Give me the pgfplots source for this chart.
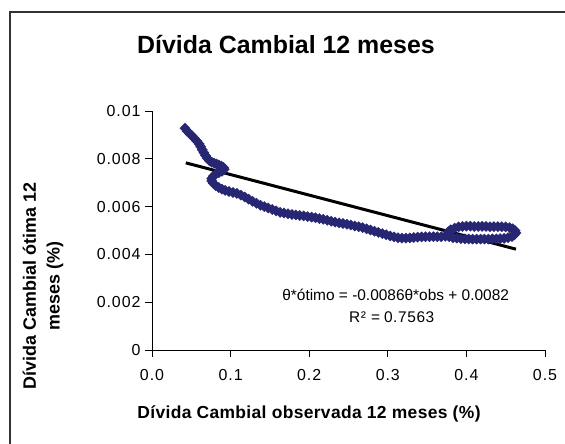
\documentclass[border=0pt]{standalone}
\usepackage{fontspec}
\setmainfont{Liberation Sans}
\usepackage{pgfplots}
\pgfplotsset{compat=1.18}
\definecolor{navy}{RGB}{38,38,115}
\newcommand{\tickfont}{\fontsize{16}{18}\selectfont\addfontfeature{LetterSpace=6}}
\begin{document}
\begin{tikzpicture}
\useasboundingbox (-152bp,-94bp) rectangle (413bp,350bp);
\fill[white] (-152bp,-94bp) rectangle (413bp,350bp);
\draw[black!80, line width=1.2bp] (-142bp,-95bp) -- (-142bp,338bp) -- (414bp,338bp);
\begin{axis}[
  at={(0,0)}, anchor=south west, scale only axis,
  width=393bp, height=239bp,
  xmin=0, xmax=0.5, ymin=0, ymax=0.01,
  scaled y ticks=false, scaled x ticks=false,
  axis x line*=bottom, axis y line*=left,
  xtick={0,0.1,0.2,0.3,0.4,0.5},
  xticklabels={0.0,0.1,0.2,0.3,0.4,0.5},
  ytick={0,0.002,0.004,0.006,0.008,0.01},
  yticklabels={0,0.002,0.004,0.006,0.008,0.01},
  tick align=outside, major tick length=7bp,
  tick style={black, line width=0.8bp},
  axis line style={black, line width=0.8bp, -},
  tick label style={font=\tickfont},
  xticklabel style={yshift=-9bp},
  yticklabel style={xshift=-1bp},
  clip=false,
]
\addplot[only marks, mark=square*, mark size=3.6bp,
  mark options={rotate=45, fill=navy, draw=navy}] coordinates {
(0.042,0.00928) (0.045,0.00915) (0.048,0.00905) (0.051,0.00896) (0.054,0.00885)
(0.057,0.00874) (0.060,0.00862) (0.062,0.00850) (0.064,0.00838) (0.066,0.00826)
(0.068,0.00814) (0.070,0.00803) (0.073,0.00792) (0.076,0.00786) (0.079,0.00782)
(0.082,0.00778) (0.085,0.00774) (0.088,0.00770) (0.091,0.00764) (0.092,0.00756)
(0.089,0.00748) (0.085,0.00742) (0.081,0.00736) (0.078,0.00727) (0.076,0.00717)
(0.076,0.00707) (0.078,0.00697) (0.081,0.00688) (0.085,0.00680) (0.089,0.00673)
(0.093,0.00668) (0.098,0.00663) (0.103,0.00659) (0.108,0.00655) (0.113,0.00648)
(0.118,0.00640) (0.123,0.00631) (0.128,0.00622) (0.133,0.00614) (0.138,0.00606)
(0.143,0.00600) (0.148,0.00594) (0.153,0.00588) (0.158,0.00582) (0.163,0.00576)
(0.168,0.00573) (0.173,0.00570) (0.178,0.00567) (0.183,0.00565) (0.188,0.00563)
(0.193,0.00561) (0.198,0.00558) (0.203,0.00556) (0.208,0.00553) (0.213,0.00550)
(0.218,0.00547) (0.223,0.00543) (0.228,0.00539) (0.233,0.00535) (0.238,0.00532)
(0.243,0.00529) (0.248,0.00526) (0.253,0.00523) (0.258,0.00519) (0.263,0.00516)
(0.268,0.00512) (0.273,0.00507) (0.278,0.00502) (0.283,0.00497) (0.288,0.00492)
(0.293,0.00487) (0.298,0.00482) (0.303,0.00477) (0.308,0.00473) (0.313,0.00470)
(0.318,0.00468) (0.323,0.00468) (0.328,0.00469) (0.333,0.00471) (0.338,0.00472)
(0.343,0.00473) (0.348,0.00474) (0.353,0.00474) (0.358,0.00474) (0.363,0.00474)
(0.368,0.00474) (0.373,0.00476) (0.378,0.00474) (0.383,0.00470) (0.388,0.00468)
(0.393,0.00466) (0.398,0.00465) (0.403,0.00464) (0.408,0.00464) (0.413,0.00464)
(0.418,0.00464) (0.423,0.00464) (0.428,0.00464) (0.433,0.00465) (0.438,0.00465)
(0.443,0.00466) (0.448,0.00467) (0.453,0.00470) (0.458,0.00475) (0.461,0.00482)
(0.463,0.00490) (0.462,0.00499) (0.459,0.00507) (0.455,0.00512) (0.450,0.00515)
(0.445,0.00516) (0.440,0.00516) (0.435,0.00516) (0.430,0.00516) (0.425,0.00517)
(0.420,0.00517) (0.415,0.00517) (0.410,0.00517) (0.405,0.00518) (0.400,0.00518)
(0.395,0.00517) (0.390,0.00515) (0.385,0.00510) (0.380,0.00503) (0.377,0.00495)
};
\addplot[black, line width=3bp] coordinates {(0.043,0.00783) (0.463,0.00422)};
\node[font=\fontsize{15.5}{18}\selectfont] at (axis cs:0.31,0.00232) {θ*ótimo = -0.0086θ*obs + 0.0082};
\node[font=\fontsize{15.5}{18}\selectfont\addfontfeature{LetterSpace=4}] at (axis cs:0.305,0.00138) {R²\hspace{5bp}=\hspace{4bp}0.7563};
\end{axis}
\node[font=\bfseries\fontsize{25}{28}\selectfont] at (134bp,306bp) {Dívida Cambial 12 meses};
\node[font=\bfseries\fontsize{17.5}{20}\selectfont\addfontfeature{LetterSpace=2}] at (157bp,-64bp) {Dívida Cambial observada 12 meses (\%)};
\node[font=\bfseries\fontsize{18}{24}\selectfont, rotate=90, align=center] at (-109bp,64bp) {Dívida Cambial ótima 12\\meses (\%)};
\end{tikzpicture}
\end{document}
